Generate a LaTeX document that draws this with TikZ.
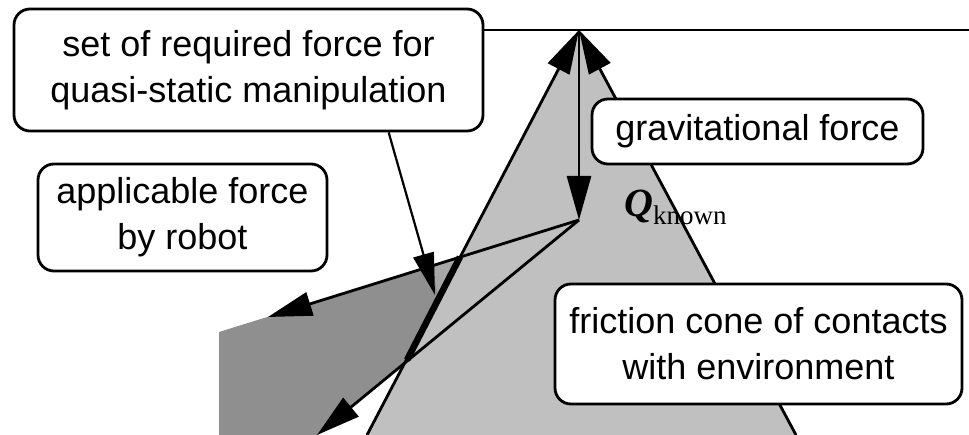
\documentclass[tikz,border=0pt]{standalone}
\usepackage{fontspec}
\setmainfont{Liberation Sans}
\newfontfamily\qserif{Liberation Serif}
\usepackage{xcolor}
\usetikzlibrary{arrows.meta}

\definecolor{conegray}{HTML}{C0C0C0}
\definecolor{robotgray}{HTML}{8F8F8F}
\definecolor{midgray}{HTML}{A6A6A6}

\begin{document}
\begin{tikzpicture}[
  x=1pt, y=-1pt,
  tag/.style={draw, line width=2.8pt, rounded corners=16pt, fill=white,
              inner sep=0pt, align=center,
              font=\fontsize{36}{46}\selectfont},
  force/.style={line width=2.8pt, -{Triangle[length=44pt, width=24pt]}},
  bound/.style={line width=2.8pt}
]
\clip (0,0) rectangle (969,435);

% key points
\coordinate (apex) at (579,30);
\coordinate (Q) at (579,220);
\coordinate (coneL) at (367,435);
\coordinate (coneR) at (796,435);
\coordinate (robotU) at (268,317);
\coordinate (robotL) at (317,435);
\coordinate (reqU) at (460,257);
\coordinate (reqL) at (407,360);
\coordinate (reqtip) at (435,295);

% applicable force region
\fill[robotgray] (219,332) -- (Q) -- (316,437) -- (219,437) -- cycle;
\fill[midgray] (431,266) -- (reqU) -- (439,297) -- cycle;

% friction cone
\fill[conegray] (apex) -- (coneR) -- (coneL) -- cycle;

% horizontal surface
\draw[bound] (483,30) -- (969,30);

% cone edges
\draw[force] (coneL) -- (apex);
\draw[force] (coneR) -- (apex);

% gravitational force
\draw[force] (apex) -- (Q);

% robot force edges
\draw[force] (Q) -- (robotU);
\draw[force] (Q) -- (robotL);

% required force set
\draw[line width=6.5pt] (reqU) -- (reqL);

% labels
\node[tag, minimum width=469pt, minimum height=122pt] (reqbox) at (248.5,70)
  {set of required force for\\quasi-static manipulation};
\node[tag, minimum width=289pt, minimum height=107pt] (robotbox) at (182.5,217.5)
  {applicable force\\by robot};
\node[tag, minimum width=331pt, minimum height=65pt] (gravbox) at (757.5,131.5)
  {gravitational force};
\node[tag, minimum width=407pt, minimum height=120pt] (conebox) at (758.5,344)
  {friction cone of contacts\\with environment};

\draw[line width=2.2pt, -{Triangle[length=42pt, width=21pt]}] (reqbox.-24.9) -- (reqtip);

\node[anchor=base west, inner sep=0pt] (qlabel) at (624,217)
  {{\qserif\bfseries\itshape\fontsize{40}{40}\selectfont Q}\raisebox{-8pt}{\qserif\fontsize{27}{27}\selectfont known}};

\end{tikzpicture}
\end{document}
